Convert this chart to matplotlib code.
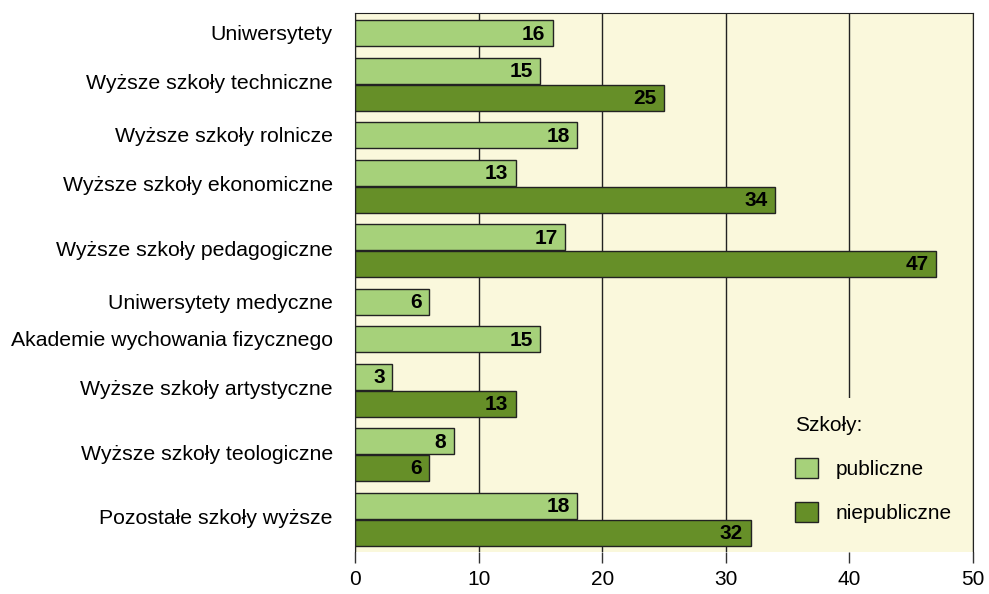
import matplotlib.pyplot as plt
from matplotlib.patches import Patch, Rectangle

plt.rcParams['font.family'] = ['Liberation Sans', 'DejaVu Sans']

categories = ["Uniwersytety", "Wyższe szkoły techniczne", "Wyższe szkoły rolnicze",
              "Wyższe szkoły ekonomiczne", "Wyższe szkoły pedagogiczne",
              "Uniwersytety medyczne", "Akademie wychowania fizycznego",
              "Wyższe szkoły artystyczne", "Wyższe szkoły teologiczne",
              "Pozostałe szkoły wyższe"]
publiczne = [16, 15, 18, 13, 17, 6, 15, 3, 8, 18]
niepubliczne = [None, 25, None, 34, 47, None, None, 13, 6, 32]

c_pub = "#a6d17a"
c_niep = "#668f28"
bg = "#faf8dc"
fs = 15

fig = plt.figure(figsize=(9.89, 5.94), dpi=100)
ax = fig.add_axes([355/989, 1-552/594, (973-355)/989, (552-13)/594])
ax.set_facecolor(bg)

# layout: bars within a group sit 27 units apart, groups 37.5 apart
pos = 33.0
ticks = []
pub_y, niep_y = [], []
for i, cat in enumerate(categories):
    if i > 0:
        pos += 37.5
    pub_y.append(pos)
    if niepubliczne[i] is not None:
        ticks.append(pos + 11)
        pos += 27
        niep_y.append(pos)
    else:
        ticks.append(pos)
        niep_y.append(None)

h = 26
for v, y in zip(publiczne, pub_y):
    ax.barh(y, v, height=h, color=c_pub, edgecolor="#222222", lw=1, zorder=3)
    ax.text(v - 0.6, y + 1, str(v), ha="right", va="center", fontsize=fs,
            fontweight="bold", zorder=4)
for v, y in zip(niepubliczne, niep_y):
    if v is None:
        continue
    ax.barh(y, v, height=h, color=c_niep, edgecolor="#222222", lw=1, zorder=3)
    ax.text(v - 0.6, y + 1, str(v), ha="right", va="center", fontsize=fs,
            fontweight="bold", zorder=4)

ax.set_xlim(0, 50)
ax.set_ylim(552, 13)
ax.set_xticks(range(0, 51, 10))
ax.set_yticks(ticks)
ax.set_yticklabels(categories, fontsize=15.3)
ax.tick_params(axis="y", length=0, pad=16)
ax.tick_params(axis="x", length=8, width=1, color="#333333", labelsize=fs, pad=5)
ax.grid(axis="x", color="#222222", lw=1, zorder=1)
for s in ["top", "left", "right"]:
    ax.spines[s].set_color("#222222")
    ax.spines[s].set_zorder(5)
ax.spines["bottom"].set_visible(False)

# the legend box hides the grid line behind it
ax.add_patch(Rectangle(((780-355)/618, 0), 0.99 - (780-355)/618, 1-(398-13)/539,
                       transform=ax.transAxes, facecolor=bg, edgecolor="none",
                       zorder=2))

handles = [Patch(facecolor=c_pub, edgecolor="#222222", label="publiczne"),
           Patch(facecolor=c_niep, edgecolor="#222222", label="niepubliczne")]
leg = ax.legend(handles=handles, title="Szkoły:", loc="upper left",
                bbox_to_anchor=(0.699, 0.268), frameon=False, fontsize=fs,
                title_fontsize=fs, handlelength=1.1, handleheight=1.1,
                handletextpad=0.85, labelspacing=1.1, alignment="left",
                borderaxespad=0)

fig.savefig("out.png", dpi=100)
